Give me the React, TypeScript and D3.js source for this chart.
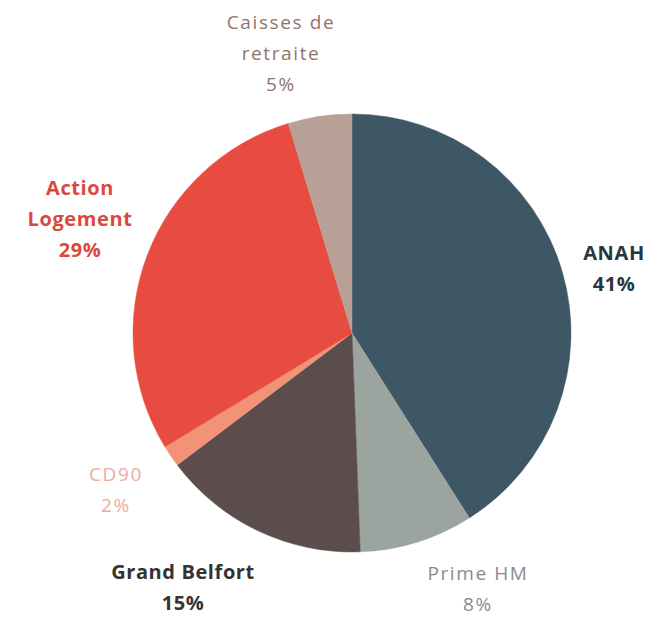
import React from "react";
import * as d3 from "d3";

const categories = ["ANAH", "Prime HM", "Grand Belfort", "CD90", "Action Logement", "Caisses de retraite"];
const values = [41.0, 8.4, 15.3, 1.6, 29.0, 4.7];
const pctLabels = ["41%", "8%", "15%", "2%", "29%", "5%"];
const labelLines = [["ANAH"], ["Prime HM"], ["Grand Belfort"], ["CD90"], ["Action", "Logement"], ["Caisses de", "retraite"]];
const colors = ["#3e5764", "#9ca49f", "#5c4d4d", "#f29277", "#e84b3f", "#b9a096"];
const textColors = ["#27363f", "#8a8a8a", "#333333", "#eeaaa0", "#d9493d", "#8f746b"];
const bold = [true, false, true, false, true, false];
const labelPos: [number, number][] = [[614, 253], [478, 573], [183, 572], [116, 474], [80, 188], [281, 22]];

export default function App() {
  const W = 658, H = 617;
  const cx = 352, cy = 333, r = 219;
  const pie = d3.pie<number>().sort(null).value((d) => d);
  const arcs = pie(values);
  const arc = d3.arc<d3.PieArcDatum<number>>().innerRadius(0).outerRadius(r);
  const lh = 31;
  return (
    <svg width={W} height={H} style={{ position: "absolute", left: 0, top: 0 }} fontFamily="'Open Sans', 'Liberation Sans', sans-serif">
      <rect width={W} height={H} fill="#fff" />
      <g transform={`translate(${cx},${cy})`}>
        {arcs.map((a, i) => (
          <path key={categories[i]} d={arc(a) || ""} fill={colors[i]} stroke={colors[i]} strokeWidth={0.5} />
        ))}
      </g>
      {categories.map((c, i) => {
        const [x, y] = labelPos[i];
        const lines = [...labelLines[i], pctLabels[i]];
        return (
          <text key={c} x={x} textAnchor="middle" fontSize={bold[i] ? 20 : 19}
            letterSpacing={bold[i] ? 0.6 : 1.6}
            fontWeight={bold[i] ? 700 : 400} fill={textColors[i]}>
            {lines.map((t, j) => (
              <tspan key={j} x={x} y={y + j * lh} dy="0.35em">{t}</tspan>
            ))}
          </text>
        );
      })}
    </svg>
  );
}
